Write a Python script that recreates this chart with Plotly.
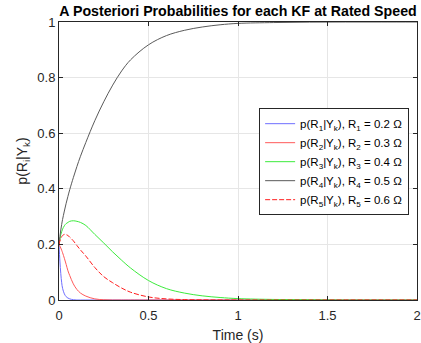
import plotly.graph_objects as go

t = [0, 0.005, 0.01, 0.015, 0.02, 0.03, 0.04, 0.05, 0.06, 0.08, 0.1, 0.12, 0.15,
     0.2, 0.25, 0.3, 0.35, 0.4, 0.5, 0.6, 0.7, 0.8, 0.9, 1.0, 1.2, 1.4, 1.6, 1.8, 2.0]

p_r1 = [0.2, 0.14, 0.095, 0.062, 0.042, 0.022, 0.012, 0.007, 0.004, 0.001, 0, 0, 0,
        0, 0, 0, 0, 0, 0, 0, 0, 0, 0, 0, 0, 0, 0, 0, 0]
p_r2 = [0.2, 0.194, 0.187, 0.179, 0.17, 0.15, 0.128, 0.105, 0.088, 0.058, 0.038, 0.025, 0.014,
        0.004, 0.001, 0, 0, 0, 0, 0, 0, 0, 0, 0, 0, 0, 0, 0, 0]
p_r3 = [0.2, 0.218, 0.235, 0.246, 0.255, 0.267, 0.275, 0.279, 0.283, 0.285, 0.283, 0.279, 0.268,
        0.236, 0.205, 0.173, 0.143, 0.115, 0.07, 0.041, 0.025, 0.015, 0.009, 0.005, 0.002, 0.001, 0, 0, 0]
p_r4 = [0.2, 0.228, 0.252, 0.272, 0.29, 0.32, 0.348, 0.373, 0.397, 0.44, 0.48, 0.517, 0.567,
        0.645, 0.713, 0.773, 0.824, 0.864, 0.918, 0.951, 0.97, 0.982, 0.99, 0.995, 0.998, 0.9995, 1.0, 1.0, 1.0]
p_r5 = [0.2, 0.212, 0.222, 0.228, 0.232, 0.236, 0.235, 0.232, 0.226, 0.213, 0.196, 0.18, 0.158,
        0.117, 0.084, 0.062, 0.043, 0.028, 0.011, 0.004, 0.0015, 0.0005, 0, 0, 0, 0, 0, 0, 0]

names = [
    "p(R<sub>1</sub>|Y<sub>k</sub>), R<sub>1</sub> = 0.2 \u03a9",
    "p(R<sub>2</sub>|Y<sub>k</sub>), R<sub>2</sub> = 0.3 \u03a9",
    "p(R<sub>3</sub>|Y<sub>k</sub>), R<sub>3</sub> = 0.4 \u03a9",
    "p(R<sub>4</sub>|Y<sub>k</sub>), R<sub>4</sub> = 0.5 \u03a9",
    "p(R<sub>5</sub>|Y<sub>k</sub>), R<sub>5</sub> = 0.6 \u03a9",
]
series = [p_r1, p_r2, p_r3, p_r4, p_r5]
colors = ["rgb(110,110,255)", "rgb(255,90,90)", "rgb(60,235,60)", "rgb(90,90,90)", "rgb(255,30,30)"]
dashes = ["solid", "solid", "solid", "solid", "5px,2px"]

FONT = "Liberation Sans, Arial, Helvetica, sans-serif"
fig = go.Figure()
for name, y, c, d in zip(names, series, colors, dashes):
    fig.add_trace(go.Scatter(x=t, y=y, mode="lines", name=name,
                             line=dict(color=c, width=1, dash=d, shape="spline", smoothing=1.0)))

axis_common = dict(showline=True, linecolor="#262626", linewidth=1, mirror="ticks",
                   ticks="inside", ticklen=4, tickcolor="#262626", automargin=False,
                   showgrid=True, gridcolor="#e6e6e6", gridwidth=1, zeroline=False,
                   tickfont=dict(family=FONT, size=13, color="#262626"))

fig.update_layout(
    width=421, height=343,
    margin=dict(l=59, r=4, t=22, b=43),
    paper_bgcolor="white", plot_bgcolor="white",
    title=dict(text="<b>A Posteriori Probabilities for each KF at Rated Speed</b>",
               font=dict(family=FONT, size=14.2, color="black"),
               x=0.5, xref="paper", xanchor="center",
               y=1 - 11.5 / 343, yref="container", yanchor="middle"),
    xaxis=dict(range=[0, 2], tickvals=[0, 0.5, 1, 1.5, 2], ticktext=["0", "0.5", "1", "1.5", "2"],
               title=dict(text="Time (s)", font=dict(family=FONT, size=14, color="#262626"), standoff=8),
               ticklabelstandoff=3,
               **axis_common),
    yaxis=dict(range=[0, 1], tickvals=[0, 0.2, 0.4, 0.6, 0.8, 1], ticktext=["0", "0.2", "0.4", "0.6", "0.8", "1"],
               title=dict(text="p(R<sub>i</sub>|Y<sub>k</sub>)", font=dict(family=FONT, size=14, color="#262626"), standoff=6),
               **axis_common),
    legend=dict(x=0.559, y=0.69, xanchor="left", yanchor="top",
                bgcolor="white", bordercolor="#262626", borderwidth=1,
                font=dict(family=FONT, size=11.5, color="black"),
                itemwidth=30, tracegroupgap=0),
    showlegend=True,
)

fig.write_html("out.html", config={"displayModeBar": False},
               post_script="document.body.style.margin='0';document.body.style.overflow='hidden';")
